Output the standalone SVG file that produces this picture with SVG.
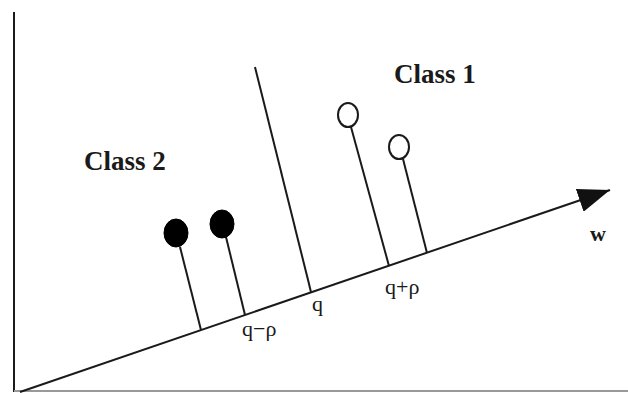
<svg xmlns="http://www.w3.org/2000/svg" width="628" height="394" viewBox="0 0 628 394">
<style>
.ln{stroke:#1a1a1a;stroke-width:2;fill:none}
.cls{font-family:"Liberation Serif",serif;font-weight:bold;font-size:27px;fill:#1a1a1a}
.lb{font-family:"Liberation Serif",serif;font-size:22px;fill:#1a1a1a}
.open{fill:#fff;stroke:#1a1a1a;stroke-width:2}
.full{fill:#000;stroke:#000;stroke-width:1}
</style>
<defs>
<marker id="ah" markerUnits="userSpaceOnUse" markerWidth="34" markerHeight="24" refX="32" refY="12" orient="auto">
<path d="M0,0 L32,12 L0,24 Z" fill="#111"/>
</marker>
</defs>
<rect width="628" height="394" fill="#fff"/>
<g id="axes">
<line class="ln" x1="14" y1="12" x2="14" y2="392"/>
<line x1="14" y1="391" x2="628" y2="391" stroke="#999" stroke-width="2"/>
</g>
<g id="connectors">
<line class="ln" x1="20" y1="392" x2="610" y2="190" stroke-width="2.5" marker-end="url(#ah)"/>
<line class="ln" x1="255" y1="67" x2="311" y2="292"/>
<line class="ln" x1="180" y1="247" x2="201" y2="330"/>
<line class="ln" x1="226" y1="237" x2="245" y2="315"/>
<line class="ln" x1="351" y1="127" x2="389" y2="266"/>
<line class="ln" x1="403" y1="159" x2="427" y2="253"/>
</g>
<g id="class2-point1"><ellipse class="full" cx="176" cy="233" rx="12" ry="14"/></g>
<g id="class2-point2"><ellipse class="full" cx="222" cy="224" rx="12" ry="14"/></g>
<g id="class1-point1"><ellipse class="open" cx="348" cy="115" rx="10" ry="12"/></g>
<g id="class1-point2"><ellipse class="open" cx="399" cy="147" rx="10" ry="12"/></g>
<g id="labels">
<text class="cls" x="394" y="83">Class 1</text>
<text class="cls" x="84" y="170">Class 2</text>
<text class="lb" x="590" y="241" font-weight="bold">w</text>
<text class="lb" x="242" y="336">q−ρ</text>
<text class="lb" x="312" y="311">q</text>
<text class="lb" x="385" y="294">q+ρ</text>
</g>
</svg>
